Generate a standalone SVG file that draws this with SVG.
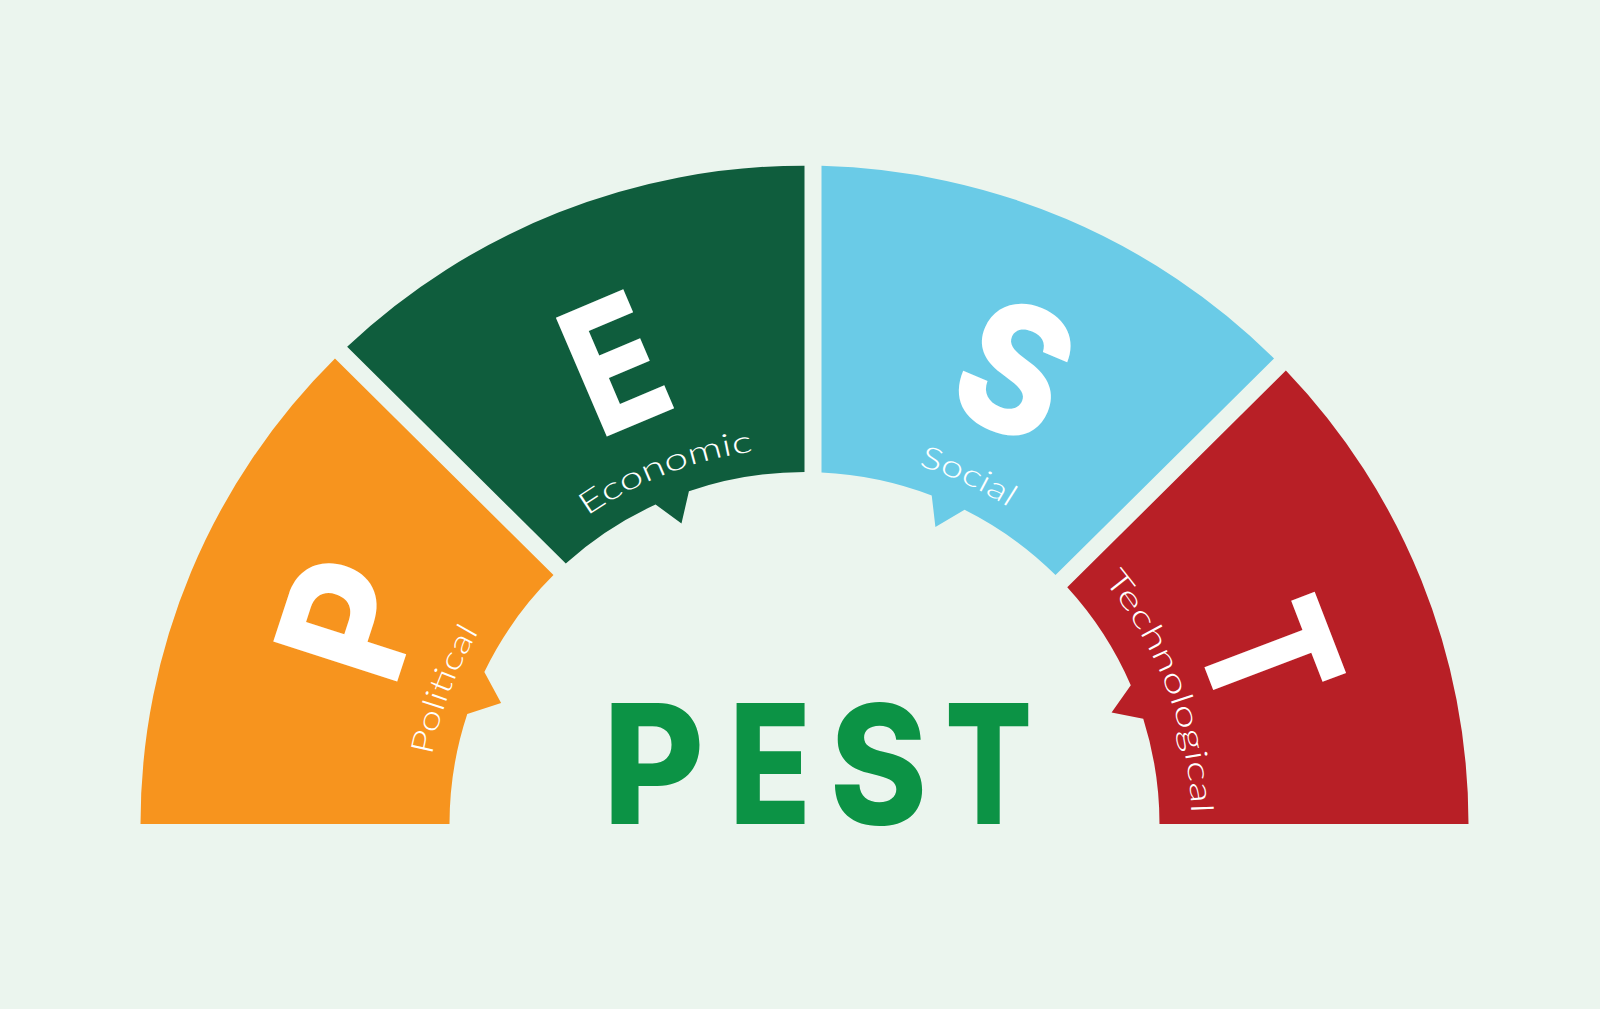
<svg xmlns="http://www.w3.org/2000/svg" width="1600" height="1009" viewBox="0 0 1600 1009">
<defs>
<style>
.bg{fill:#EBF5EE}
.big{font-family:Inter,"Open Sans","Liberation Sans",sans-serif;font-weight:800;font-size:179px;fill:#FFFFFF;text-anchor:middle}
.lbl{font-family:Lato,"Open Sans","Liberation Sans",sans-serif;font-weight:300;font-size:31px;fill:#FFFFFF}
.title{font-family:Inter,"Open Sans","Liberation Sans",sans-serif;font-weight:800;font-size:166px;fill:#0C9345;text-anchor:middle}
</style>
<path id="arcP" d="M -372.65 -69.07 A 379 379 0 0 1 -290.33 -243.62"/>
<path id="arcE" d="M -217.39 -310.46 A 379 379 0 0 1 33.03 -377.56"/>
<path id="arcS" d="M 113.97 -361.46 A 379 379 0 0 1 290.33 -243.62"/>
<path id="arcT" d="M 298.62 -246.16 A 387 387 0 0 1 385.53 33.73"/>
</defs>
<rect class="bg" x="0" y="0" width="1600" height="1009"/>
<g id="connectors"/>
<g transform="translate(804.5,824) scale(1,0.9915)">
<g id="node-P">
<path fill="#F7941E" d="M -664 0 A 664 664 0 0 1 -469.52 -469.52 L -251.02 -251.02 A 355 355 0 0 0 -320.15 -153.39 L -303.40 -121.99 L -337.24 -110.88 A 355 355 0 0 0 -355 0 Z"/>
<g transform="translate(-455,-207) rotate(-72) scale(0.94,1)"><text class="big" x="0" y="65">P</text></g>
<text class="lbl"><textPath href="#arcP" textLength="134" lengthAdjust="spacingAndGlyphs">Political</textPath></text>
</g>
<g id="node-E">
<path fill="#0F5D3D" d="M -457.35 -481.39 A 664 664 0 0 1 0 -664 L 0 -355 A 355 355 0 0 0 -115.58 -335.66 L -123.02 -302.98 L -148.90 -322.26 A 355 355 0 0 0 -238.71 -262.75 Z"/>
<g transform="translate(-190,-464.7) rotate(-23) scale(0.81,1)"><text class="big" x="0" y="65">E</text></g>
<text class="lbl"><textPath href="#arcE" textLength="180" lengthAdjust="spacingAndGlyphs">Economic</textPath></text>
</g>
<g id="node-S">
<path fill="#6ACBE7" d="M 17 -663.78 A 664 664 0 0 1 469.52 -469.52 L 251.02 -251.02 A 355 355 0 0 0 160.06 -316.87 L 130.91 -299.65 L 127.22 -331.42 A 355 355 0 0 0 17 -354.59 Z"/>
<g transform="translate(210.5,-459) rotate(23) scale(0.89,1)"><text class="big" x="0" y="65">S</text></g>
<text class="lbl"><textPath href="#arcS" textLength="100" lengthAdjust="spacingAndGlyphs">Social</textPath></text>
</g>
<g id="node-T">
<path fill="#B81F26" d="M 481.39 -457.35 A 664 664 0 0 1 664 0 L 355 0 A 355 355 0 0 0 338.76 -106.16 L 307.08 -112.38 L 326.29 -139.85 A 355 355 0 0 0 262.75 -238.71 Z"/>
<g transform="translate(465,-170) rotate(69) scale(0.8,1)"><text class="big" x="0" y="65">T</text></g>
<text class="lbl"><textPath href="#arcT" textLength="256" lengthAdjust="spacingAndGlyphs">Technological</textPath></text>
</g>
</g>
<g id="title">
<text class="title" transform="translate(653.5,824) scale(0.94,1)">P</text>
<text class="title" transform="translate(770,824) scale(0.81,1)">E</text>
<text class="title" transform="translate(878.5,824) scale(0.89,1)">S</text>
<text class="title" transform="translate(988.5,824) scale(0.78,1)">T</text>
</g>
</svg>
